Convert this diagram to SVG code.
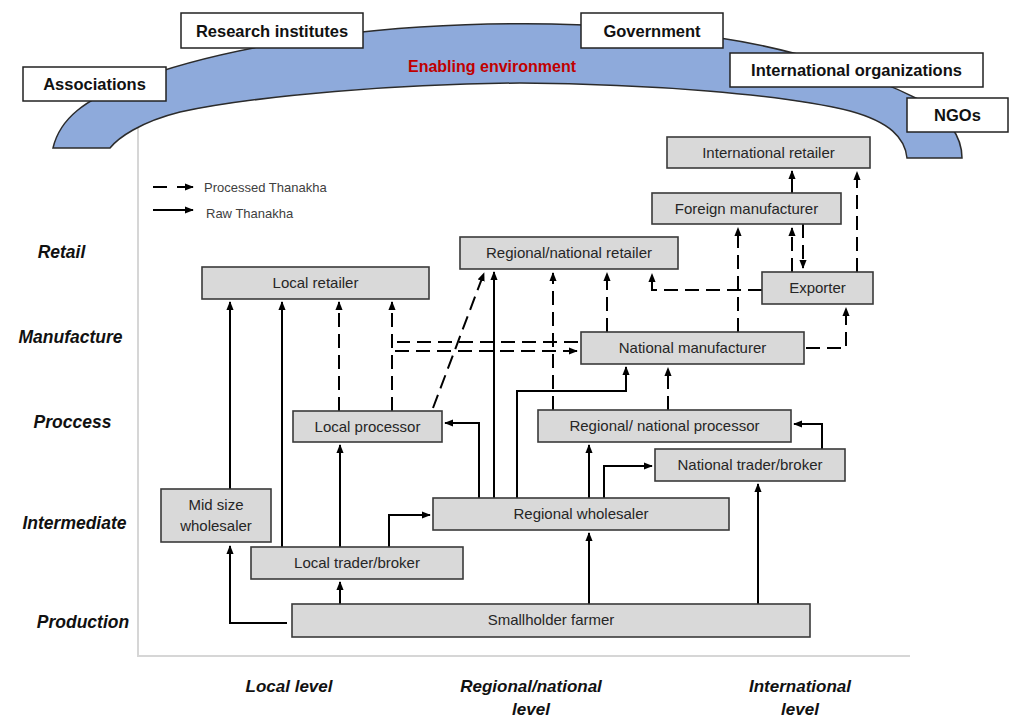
<svg xmlns="http://www.w3.org/2000/svg" width="1011" height="718" viewBox="0 0 1011 718">
<style>
.bg{fill:#ffffff}
.frame{fill:none;stroke:#d6d6d6;stroke-width:2}
.band{fill:#8eaadb;stroke:#2b2b2b;stroke-width:1.5}
.hbox{fill:#ffffff;stroke:#222;stroke-width:1.5}
.htxt{font-family:"Liberation Sans",Arial,sans-serif;font-weight:bold;font-size:16.5px;fill:#111;text-anchor:middle}
.env{font-family:"Liberation Sans",Arial,sans-serif;font-weight:bold;font-size:16px;fill:#c00000;text-anchor:middle}
.node{fill:#d9d9d9;stroke:#3a3a3a;stroke-width:1.6}
.ntxt{font-family:"Liberation Sans",Arial,sans-serif;font-size:15px;fill:#262626;text-anchor:middle}
.axis{font-family:"Liberation Sans",Arial,sans-serif;font-weight:bold;font-style:italic;font-size:17.5px;fill:#111;text-anchor:middle}
.lvl{font-family:"Liberation Sans",Arial,sans-serif;font-weight:bold;font-style:italic;font-size:17px;fill:#111;text-anchor:middle}
.leg{font-family:"Liberation Sans",Arial,sans-serif;font-size:13px;fill:#404040}
.raw{fill:none;stroke:#000;stroke-width:2;marker-end:url(#ah)}
.proc{fill:none;stroke:#000;stroke-width:2;stroke-dasharray:14 7;marker-end:url(#ah)}
.procn{fill:none;stroke:#000;stroke-width:2;stroke-dasharray:14 7}
</style>
<defs>
<marker id="ah" viewBox="0 0 10 8" refX="9" refY="4" markerWidth="9" markerHeight="7.5" markerUnits="userSpaceOnUse" orient="auto">
<path d="M0,0 L10,4 L0,8 z" fill="#000" stroke="none"/>
</marker>
</defs>
<rect class="bg" x="0" y="0" width="1011" height="718"/>
<g id="frame">
<path class="frame" d="M138,125 L138,656 L910,656"/>
</g>
<g id="enabling-environment">
<path class="band" d="M53,148 C60,118 85,100 130,82 C200,55 300,35 420,27 C520,21 620,22 720,38 C800,50 870,75 920,100 C950,118 962,138 962,158 L907,158 C905,138 890,122 850,111 C780,94 650,84 520,83 C400,84 260,95 180,112 C140,122 118,138 110,148 Z"/>
<text class="env" x="492" y="72">Enabling environment</text>
</g>
<g id="research-institutes"><rect class="hbox" x="181" y="13" width="182" height="35"/><text class="htxt" x="272" y="37">Research institutes</text></g>
<g id="government"><rect class="hbox" x="581" y="13" width="142" height="35"/><text class="htxt" x="652" y="37">Government</text></g>
<g id="associations"><rect class="hbox" x="23" y="67" width="143" height="34"/><text class="htxt" x="94.5" y="90">Associations</text></g>
<g id="international-organizations"><rect class="hbox" x="730" y="53" width="253" height="34"/><text class="htxt" x="856.5" y="76">International organizations</text></g>
<g id="ngos"><rect class="hbox" x="907" y="98" width="101" height="34"/><text class="htxt" x="957.5" y="121">NGOs</text></g>

<g id="legend">
<path class="procn" d="M153,187 L170,187"/>
<path class="raw" d="M177,187 L193,187"/>
<text class="leg" x="204" y="191.5">Processed Thanakha</text>
<path class="raw" d="M153,210 L193,210"/>
<text class="leg" x="206" y="218">Raw Thanakha</text>
</g>

<g id="axis-labels">
<text class="axis" x="61.5" y="258">Retail</text>
<text class="axis" x="70.5" y="343">Manufacture</text>
<text class="axis" x="72.5" y="428">Proccess</text>
<text class="axis" x="74.5" y="529">Intermediate</text>
<text class="axis" x="83" y="628">Production</text>
</g>
<g id="level-labels">
<text class="lvl" x="289" y="692">Local level</text>
<text class="lvl" x="531" y="692">Regional/national</text>
<text class="lvl" x="531" y="715">level</text>
<text class="lvl" x="800" y="692">International</text>
<text class="lvl" x="800" y="715">level</text>
</g>

<g id="connectors">
<path class="raw" d="M287,623 L230,623 L230,546"/>
<path class="raw" d="M340,604 L340,582"/>
<path class="raw" d="M589,604 L589,533"/>
<path class="raw" d="M758,604 L758,484"/>
<path class="raw" d="M230,489 L230,302"/>
<path class="raw" d="M282,547 L282,302"/>
<path class="raw" d="M340,547 L340,445"/>
<path class="raw" d="M389,547 L389,515 L430,515"/>
<path class="raw" d="M479,498 L479,423 L445,423"/>
<path class="raw" d="M494,498 L494,272"/>
<path class="raw" d="M517,498 L517,391 L626,391 L626,367"/>
<path class="raw" d="M589,498 L589,445"/>
<path class="raw" d="M604,498 L604,466 L652,466"/>
<path class="raw" d="M822,449 L822,424 L794,424"/>
<path class="raw" d="M792,193 L792,171"/>
<path class="proc" d="M339,411 L339,302"/>
<path class="proc" d="M392,411 L392,302"/>
<path class="proc" d="M392,411 L392,351 L577,351"/>
<path class="procn" d="M578,342 L397,342"/>
<path class="proc" d="M433,408 L484,273"/>
<path class="proc" d="M553,410 L553,273"/>
<path class="proc" d="M607,332 L607,273"/>
<path class="proc" d="M762,290 L652,290 L652,274"/>
<path class="proc" d="M738,332 L738,228"/>
<path class="proc" d="M806,348 L846,348 L846,308"/>
<path class="proc" d="M857,272 L857,172"/>
<path class="proc" d="M668,410 L668,368"/>
<path class="proc" d="M792,272 L792,228"/>
<path class="proc" d="M803,224 L803,268"/>
</g>

<g id="international-retailer"><rect class="node" x="667" y="137" width="203" height="31"/><text class="ntxt" x="768.5" y="158">International retailer</text></g>
<g id="foreign-manufacturer"><rect class="node" x="652" y="193" width="189" height="31"/><text class="ntxt" x="746.5" y="214">Foreign manufacturer</text></g>
<g id="regional-national-retailer"><rect class="node" x="460" y="237" width="218" height="32"/><text class="ntxt" x="569" y="258">Regional/national retailer</text></g>
<g id="local-retailer"><rect class="node" x="202" y="267" width="227" height="32"/><text class="ntxt" x="315.5" y="288">Local retailer</text></g>
<g id="exporter"><rect class="node" x="762" y="272" width="111" height="32"/><text class="ntxt" x="817.5" y="293">Exporter</text></g>
<g id="national-manufacturer"><rect class="node" x="581" y="332" width="223" height="32"/><text class="ntxt" x="692.5" y="353">National manufacturer</text></g>
<g id="local-processor"><rect class="node" x="293" y="411" width="149" height="31"/><text class="ntxt" x="367.5" y="432">Local processor</text></g>
<g id="regional-national-processor"><rect class="node" x="538" y="410" width="253" height="32"/><text class="ntxt" x="664.5" y="431">Regional/ national processor</text></g>
<g id="national-trader-broker"><rect class="node" x="655" y="449" width="190" height="32"/><text class="ntxt" x="750" y="470">National trader/broker</text></g>
<g id="mid-size-wholesaler"><rect class="node" x="161" y="489" width="110" height="53"/><text class="ntxt" x="216" y="510">Mid size</text><text class="ntxt" x="216" y="531">wholesaler</text></g>
<g id="regional-wholesaler"><rect class="node" x="433" y="498" width="296" height="32"/><text class="ntxt" x="581" y="519">Regional wholesaler</text></g>
<g id="local-trader-broker"><rect class="node" x="251" y="547" width="212" height="32"/><text class="ntxt" x="357" y="568">Local trader/broker</text></g>
<g id="smallholder-farmer"><rect class="node" x="292" y="604" width="518" height="33"/><text class="ntxt" x="551" y="625">Smallholder farmer</text></g>
</svg>
